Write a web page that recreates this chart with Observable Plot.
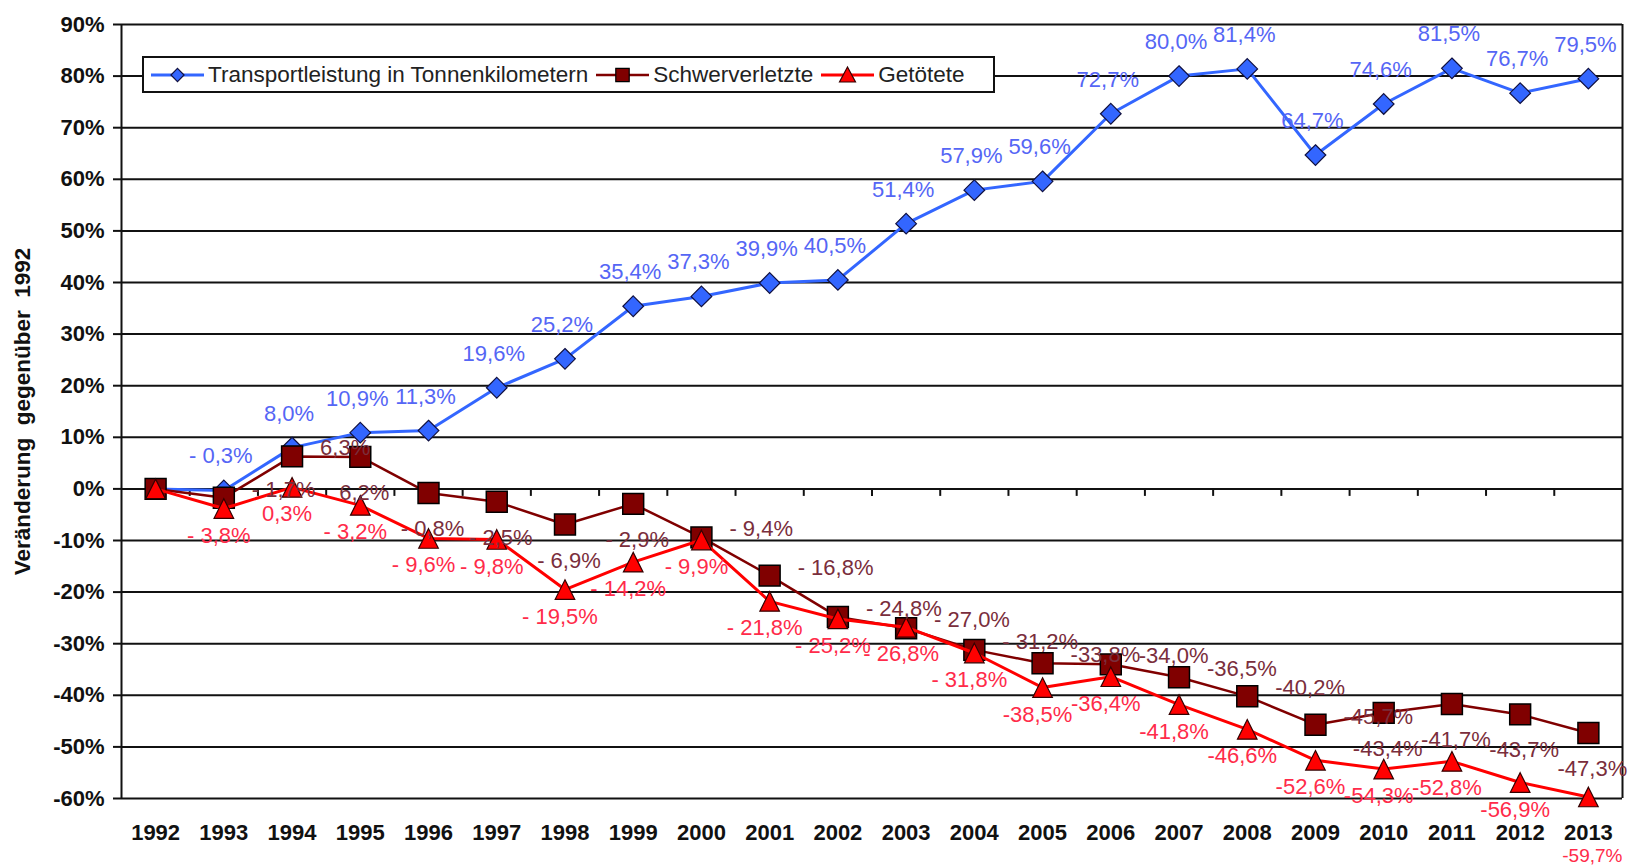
<!DOCTYPE html>
<html><head><meta charset="utf-8">
<script src="https://cdn.jsdelivr.net/npm/d3@7"></script>
<script src="https://cdn.jsdelivr.net/npm/@observablehq/plot@0.6"></script>
<style>
body{margin:0;background:#fff;}
#wrap{position:relative;width:1631px;height:866px;overflow:hidden;}
#legend{position:absolute;left:142px;top:56px;width:853px;height:37px;box-sizing:border-box;border:2px solid #111;background:#fff;display:flex;align-items:center;padding-left:7px;font-family:"Liberation Sans",Arial,sans-serif;font-size:22.5px;color:#222;white-space:nowrap;}
#legend .item{display:flex;align-items:center;margin-right:8px;}
#legend svg{margin-right:4px;}
</style></head>
<body>
<div id="wrap"><div id="chart"></div><div id="legend"></div></div>
<script>
const years = [1992,1993,1994,1995,1996,1997,1998,1999,2000,2001,2002,2003,2004,2005,2006,2007,2008,2009,2010,2011,2012,2013];
const transport = [0,-0.3,8.0,10.9,11.3,19.6,25.2,35.4,37.3,39.9,40.5,51.4,57.9,59.6,72.7,80.0,81.4,64.7,74.6,81.5,76.7,79.5];
const schwer = [0,-1.7,6.3,6.2,-0.8,-2.5,-6.9,-2.9,-9.4,-16.8,-24.8,-27.0,-31.2,-33.8,-34.0,-36.5,-40.2,-45.7,-43.4,-41.7,-43.7,-47.3];
const getoetet = [0,-3.8,0.3,-3.2,-9.6,-9.8,-19.5,-14.2,-9.9,-21.8,-25.2,-26.8,-31.8,-38.5,-36.4,-41.8,-46.6,-52.6,-54.3,-52.8,-56.9,-59.7];
const transportLabels = ["","- 0,3%","8,0%","10,9%","11,3%","19,6%","25,2%","35,4%","37,3%","39,9%","40,5%","51,4%","57,9%","59,6%","72,7%","80,0%","81,4%","64,7%","74,6%","81,5%","76,7%","79,5%"];
const schwerLabels = ["","- 1,7%","6,3%","6,2%","- 0,8%","- 2,5%","- 6,9%","- 2,9%","- 9,4%","- 16,8%","- 24,8%","- 27,0%","- 31,2%","-33,8%","-34,0%","-36,5%","-40,2%","-45,7%","-43,4%","-41,7%","-43,7%","-47,3%"];
const getoetetLabels = ["","- 3,8%","0,3%","- 3,2%","- 9,6%","- 9,8%","- 19,5%","- 14,2%","- 9,9%","- 21,8%","- 25,2%","- 26,8%","- 31,8%","-38,5%","-36,4%","-41,8%","-46,6%","-52,6%","-54,3%","-52,8%","-56,9%","-59,7%"];
const yTicks = [90,80,70,60,50,40,30,20,10,0,-10,-20,-30,-40,-50,-60];
const seriesNames = ["Transportleistung in Tonnenkilometern","Schwerverletzte","Getötete"];
const yTitle = "Veränderung\u00a0 gegenüber\u00a0 1992";

const FONT = '"Liberation Sans", Arial, sans-serif';
const blue = "#3366ff", blueText = "#5566f5";
const dark = "#800000", darkText = "#7a2e3c";
const red = "#ff0000", redText = "#ff2b4a";

const table = years.map((year, i) => ({
  year, transport: transport[i], schwer: schwer[i], getoetet: getoetet[i],
  tl: transportLabels[i], sl: schwerLabels[i], gl: getoetetLabels[i]
}));
const boundaries = years.map(y => y + 0.5).slice(0, -1);
const yMin = d3.min(yTicks);
// collision rules for the labels
const nearBottom = d => d.getoetet - yMin < 2;          // would sit on the year axis
const crowded = d => d.schwer - d.getoetet < 7;          // Getötete label right below

const triangleSym = {draw(ctx, size) {
  const k = Math.sqrt(size / Math.PI) * 1.36;
  ctx.moveTo(0, -k); ctx.lineTo(k, k); ctx.lineTo(-k, k); ctx.closePath();
}};
const tickSym = {draw(ctx) { ctx.moveTo(0, 0); ctx.lineTo(0, 7); }};

const chart = Plot.plot({
  width: 1631, height: 866,
  marginLeft: 121, marginRight: 9, marginTop: 24, marginBottom: 68,
  x: {type: "linear", domain: [1991.5, 2013.5]},
  y: {domain: [-60, 90]},
  style: {fontFamily: FONT, background: "#fff", overflow: "visible"},
  marks: [
    Plot.ruleY(yTicks, {stroke: "#111", strokeWidth: 2}),
    Plot.ruleX([1991.5, 2013.5], {y1: -60, y2: 90, stroke: "#111", strokeWidth: 2}),
    Plot.axisY({ticks: yTicks, tickSize: 8, tickPadding: 9, tickFormat: d => d + "%", fontSize: 22, fontWeight: "bold", fill: "#111", stroke: null, label: null}),
    Plot.axisY({ticks: yTicks, tickSize: 8, tickFormat: null, text: null, stroke: "#111", strokeWidth: 2, label: null}),
    Plot.axisX({ticks: years, tickSize: 0, tickPadding: 26, tickFormat: d => String(d), fontSize: 22, fontWeight: "bold", fill: "#111", label: null}),
    Plot.text([yTitle], {frameAnchor: "left", textAnchor: "middle", rotate: -90, dx: -99, dy: 0, fontSize: 22.5, fontWeight: "bold", fill: "#111", lineAnchor: "middle"}),
    Plot.dot(boundaries, {x: d => d, y: () => 0, symbol: tickSym, r: 4, stroke: "#111", strokeWidth: 2, fill: "none"}),
    Plot.line(table, {x: "year", y: "transport", stroke: blue, strokeWidth: 3}),
    Plot.dot(table, {x: "year", y: "transport", symbol: "diamond2", r: 9.3, fill: blue, stroke: "#101040", strokeWidth: 1.2}),
    Plot.line(table, {x: "year", y: "schwer", stroke: dark, strokeWidth: 2.5}),
    Plot.dot(table, {x: "year", y: "schwer", symbol: "square", r: 11.8, fill: dark, stroke: "#000", strokeWidth: 1.5}),
    Plot.line(table, {x: "year", y: "getoetet", stroke: red, strokeWidth: 3}),
    Plot.dot(table, {x: "year", y: "getoetet", symbol: triangleSym, r: 7.2, fill: red, stroke: "#300", strokeWidth: 1.2}),
    Plot.text(table, {x: "year", y: "transport", text: "tl", dx: -3, dy: -34, fontSize: 22, fill: blueText}),
    Plot.text(table.filter(d => !crowded(d)), {x: "year", y: "schwer", text: "sl", dx: 4, dy: 36, fontSize: 22, fill: darkText}),
    Plot.text(table.filter(crowded), {x: "year", y: "schwer", text: "sl", dx: 28, dy: -8, textAnchor: "start", fontSize: 22, fill: darkText}),
    Plot.text(table.filter(d => !nearBottom(d)), {x: "year", y: "getoetet", text: "gl", dx: -5, dy: 27, fontSize: 22, fill: redText}),
    Plot.text(table.filter(nearBottom), {x: "year", y: "getoetet", text: "gl", dx: 4, dy: 59, fontSize: 19, fill: redText})
  ]
});
document.getElementById("chart").appendChild(chart);

// legend
const colors = [blue, dark, red];
const lineW = [3, 2.5, 3];
const syms = [d3.symbol(d3.symbolDiamond2, 110)(), d3.symbol(d3.symbolSquare, 180)(), null];
const legend = d3.select("#legend");
seriesNames.forEach((name, i) => {
  const item = legend.append("div").attr("class", "item");
  const svg = item.append("svg").attr("width", 53).attr("height", 30);
  svg.append("line").attr("x1", 0).attr("x2", 53).attr("y1", 15).attr("y2", 15)
    .attr("stroke", colors[i]).attr("stroke-width", lineW[i]);
  const g = svg.append("g").attr("transform", "translate(26.5,15)");
  if (i < 2) {
    g.append("path").attr("d", syms[i]).attr("fill", colors[i]).attr("stroke", i === 0 ? "#101040" : "#000").attr("stroke-width", 1.2);
  } else {
    g.append("path").attr("d", "M0,-8L8,7L-8,7Z").attr("fill", colors[i]).attr("stroke", "#300").attr("stroke-width", 1.2);
  }
  item.append("span").text(name);
});
</script>
</body></html>
